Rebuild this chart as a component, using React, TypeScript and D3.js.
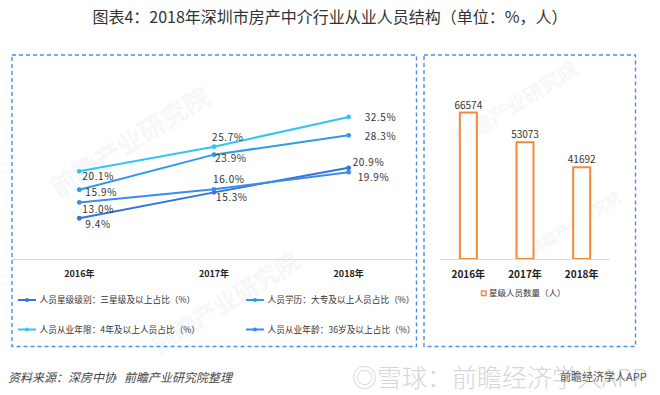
import React from "react";
import * as d3 from "d3";

const years = ["2016年", "2017年", "2018年"];
const seriesNames = [
  "人员星级级别：三星级及以上占比（%）",
  "人员学历：大专及以上人员占比（%）",
  "人员从业年限：4年及以上人员占比（%）",
  "人员从业年龄：36岁及以上占比（%）",
];
const starLevel = [9.4, 15.3, 20.9];
const education = [15.9, 23.9, 28.3];
const tenure = [20.1, 25.7, 32.5];
const age = [13.0, 16.0, 19.9];
const barName = "星级人员数量（人）";
const starStaff = [66574, 53073, 41692];

// layout (not data)
const seriesColors = ["#3472e0", "#2f98ef", "#35c3f7", "#3a8cec"];
// label offsets per series per year [dx, dy] relative to point (text start, text middle)
const labelOffsets = [
  [[6, 6], [2, 5], [4, -5]],
  [[6, 3], [1, 4], [16, 1]],
  [[3, 5], [-2, -9], [16, 1]],
  [[3, 7], [-1, -10], [9, 5]],
];

export default function App() {
  const W = 660, H = 395;
  const font = "'Noto Sans CJK SC', 'Noto Sans', sans-serif";
  const series = [starLevel, education, tenure, age];

  const x = d3.scaleBand<string>().domain(years).range([12, 416]);
  const y = d3.scaleLinear().domain([0, 40]).range([259.5, 84]);
  const line = d3
    .line<number>()
    .x((_, i) => (x(years[i]) as number) + x.bandwidth() / 2)
    .y((d) => y(d));

  const xb = d3.scaleBand<string>().domain(years).range([440, 610]);
  const yb = d3.scaleLinear().domain([0, 80000]).range([259, 83]);
  const barW = 17;

  const fmt = (v: number) => v.toFixed(1) + "%";

  const legendPos = [
    [18, 300],
    [246, 300],
    [18, 329.5],
    [246, 329.5],
  ];

  const wm = (cx: number, cy: number, size: number, key: string) => (
    <g key={key} transform={`translate(${cx},${cy}) rotate(-32)`} opacity={0.3}>
      <text textAnchor="middle" fontSize={size} fontFamily={font} fontWeight={700} fill="#dfe5ec">
        前瞻产业研究院
      </text>
    </g>
  );

  return (
    <svg
      width={W}
      height={H}
      style={{ position: "absolute", left: 0, top: 0, background: "#fff" }}
      fontFamily={font}
    >
      <rect x={0} y={0} width={W} height={H} fill="#fff" />
      <text x={330} y={23} textAnchor="middle" fontSize={16} fill="#333">
        图表4：2018年深圳市房产中介行业从业人员结构（单位：%，人）
      </text>

      {/* watermarks */}
      {wm(135, 150, 26, "w1")}
      {wm(230, 310, 24, "w2")}
      {wm(520, 110, 20, "w3")}
      {wm(578, 228, 15, "w4")}

      {/* panels */}
      <rect x={12} y={55} width={404.5} height={291.5} fill="none" stroke="#4a8fe6" strokeWidth={1.4} strokeDasharray="4,3" />
      <rect x={424} y={55} width={211.5} height={291.5} fill="none" stroke="#4a8fe6" strokeWidth={1.4} strokeDasharray="4,3" />

      {/* line chart axis */}
      <line x1={12} x2={416} y1={259.5} y2={259.5} stroke="#d9d9d9" strokeWidth={1} />
      {years.map((yr) => (
        <text
          key={yr}
          x={(x(yr) as number) + x.bandwidth() / 2}
          y={276.5}
          textAnchor="middle"
          fontSize={9}
          fontWeight={700}
          fill="#222"
        >
          {yr}
        </text>
      ))}

      {series.map((s, si) => (
        <g key={si}>
          <path d={line(s) || ""} fill="none" stroke={seriesColors[si]} strokeWidth={2} />
          {s.map((v, i) => {
            const cx = (x(years[i]) as number) + x.bandwidth() / 2;
            const cy = y(v);
            const [dx, dy] = labelOffsets[si][i];
            return (
              <g key={i}>
                <circle cx={cx} cy={cy} r={2.4} fill={seriesColors[si]} />
                <text
                  x={cx + dx}
                  y={cy + dy}
                  dy="0.35em"
                  fontSize={10}
                  fill="#333"
                  letterSpacing={0.6}
                >
                  {fmt(v)}
                </text>
              </g>
            );
          })}
        </g>
      ))}

      {/* line legend */}
      {seriesNames.map((n, i) => {
        const [lx, ly] = legendPos[i];
        return (
          <g key={n}>
            <line x1={lx} x2={lx + 18} y1={ly} y2={ly} stroke={seriesColors[i]} strokeWidth={2} />
            <circle cx={lx + 9} cy={ly} r={2} fill={seriesColors[i]} />
            <text x={lx + 21.5} y={ly} dy="0.35em" fontSize={8.7} fill="#333">
              {n}
            </text>
          </g>
        );
      })}

      {/* bar chart */}
      {starStaff.map((v, i) => {
        const cx = (xb(years[i]) as number) + xb.bandwidth() / 2;
        return (
          <g key={i}>
            <rect
              x={cx - barW / 2}
              y={yb(v)}
              width={barW}
              height={yb(0) - yb(v)}
              fill="#fff"
              stroke="#f5893a"
              strokeWidth={2}
            />
            <text x={cx} y={yb(v) - 4} textAnchor="middle" fontSize={10} fill="#333">
              {v}
            </text>
          </g>
        );
      })}
      <line x1={440} x2={610} y1={259.5} y2={259.5} stroke="#d9d9d9" strokeWidth={1} />
      {years.map((yr) => (
        <text
          key={yr}
          x={(xb(yr) as number) + xb.bandwidth() / 2}
          y={277.5}
          textAnchor="middle"
          fontSize={10}
          fontWeight={700}
          fill="#222"
        >
          {yr}
        </text>
      ))}
      <rect x={481.5} y={291} width={4.5} height={4.5} fill="#fff" stroke="#f5893a" strokeWidth={1.5} />
      <text x={489} y={293.3} dy="0.35em" fontSize={8.5} fill="#333">
        {barName}
      </text>

      {/* footer */}
      <text x={8} y={382} fontSize={12} fontStyle="italic" fill="#444" style={{ whiteSpace: "pre" }}>
        {"资料来源：深房中协\u00A0\u00A0\u00A0前瞻产业研究院整理"}
      </text>
      <text x={352} y={387} fontSize={25} fill="#d6d6d6" fontWeight={300}>
        ◎雪球：前瞻经济学人APP
      </text>
      <text x={560} y={381} fontSize={11} fill="#555">
        前瞻经济学人APP
      </text>
    </svg>
  );
}
